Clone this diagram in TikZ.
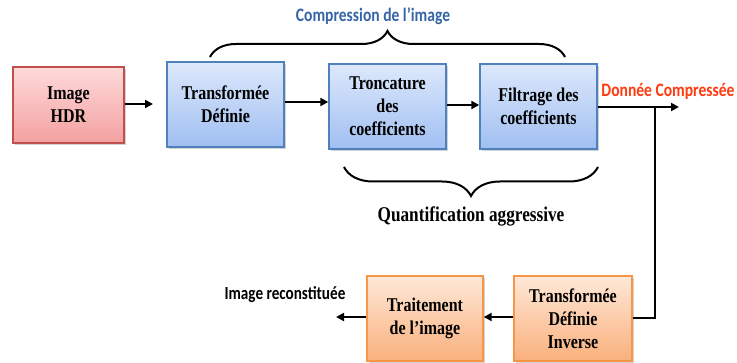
\documentclass[tikz,border=0pt]{standalone}
\usepackage{fontspec}
\newfontfamily\tnrfont[FakeStretch=0.82]{Liberation Serif}
\newfontfamily\calfont[FakeStretch=0.82]{Carlito}
\usetikzlibrary{arrows.meta,shadows,decorations.pathreplacing}
\definecolor{hdrborder}{HTML}{C0504D}
\definecolor{hdrtop}{HTML}{FFDADA}
\definecolor{hdrbot}{HTML}{F3A0A0}
\definecolor{blueborder}{HTML}{4F81BD}
\definecolor{bluetop}{HTML}{DDE8FB}
\definecolor{bluebot}{HTML}{A0BFF2}
\definecolor{orborder}{HTML}{F79646}
\definecolor{ortop}{HTML}{FFE8D8}
\definecolor{orbot}{HTML}{F9B07C}
\definecolor{compblue}{HTML}{3665A6}
\definecolor{compred}{HTML}{FF3A10}
\tikzset{
  box/.style={draw, line width=1.4pt, align=center, inner sep=2pt,
    font=\tnrfont\bfseries\fontsize{19.5}{23}\selectfont,
    drop shadow={shadow xshift=2pt, shadow yshift=-2.5pt, opacity=0.35, fill=gray}},
  hdrbox/.style={box, draw=hdrborder, top color=hdrtop, bottom color=hdrbot},
  bluebox/.style={box, draw=blueborder, top color=bluetop, bottom color=bluebot},
  orbox/.style={box, draw=orborder, top color=ortop, bottom color=orbot},
  conn/.style={line width=2pt, -{Triangle[length=8pt,width=8pt]}},
  plainconn/.style={line width=2pt},
  bracestyle/.style={line width=2pt, decorate},
  lab/.style={font=\calfont\bfseries\fontsize{19}{22}\selectfont, inner sep=0pt},
}
\begin{document}
\begin{tikzpicture}[x=1pt,y=-1pt]
\useasboundingbox (0,0) rectangle (737,363);

\node[hdrbox, minimum width=111pt, minimum height=76pt] (hdr) at (68.5,105) {Image\\HDR};
\node[bluebox, minimum width=117pt, minimum height=85pt] (td) at (225.5,104.5) {Transformée\\Définie};
\node[bluebox, minimum width=117pt, minimum height=85pt] (tr) at (387.5,106.5) {Troncature\\des\\coefficients};
\node[bluebox, minimum width=117pt, minimum height=85pt] (fi) at (538.5,106.5) {Filtrage des\\coefficients};
\node[orbox, minimum width=118pt, minimum height=85pt] (tdi) at (573,318.5) {Transformée\\Définie\\Inverse};
\node[orbox, minimum width=116pt, minimum height=85pt] (ti) at (425,318.5) {Traitement\\de l’image};

\node[lab, text=compblue] (comp) at (373,16) {Compression de l’image};
\node[lab, text=compred] (donnee) at (668,91) {Donnée Compressée};
\node[lab, font=\calfont\bfseries\fontsize{18.5}{22}\selectfont] (recon) at (285,295) {Image reconstituée};
\node[font=\tnrfont\bfseries\fontsize{21}{24}\selectfont, inner sep=0pt] (quant) at (471,216) {Quantification aggressive};

\coordinate (out) at (679,107);
\coordinate (j) at (655,107);
\coordinate (rend) at (336,317);
\coordinate (hdrend) at (153,104);

\draw[conn] (hdr.east |- hdrend) -- (hdrend);
\draw[conn] (td.east |- 0,102) -- (tr.west |- 0,102);
\draw[conn] (tr.east |- 0,105) -- (fi.west |- 0,105);
\draw[conn] (fi.east |- out) -- (out);
\draw[plainconn] (j) |- (tdi.east);
\draw[conn] (tdi.west |- 0,317) -- (ti.east |- 0,317);
\draw[conn] (ti.west |- rend) -- (rend);

\draw[bracestyle, decoration={brace, amplitude=26pt}] (210,57) -- (565,57);
\draw[bracestyle, decoration={brace, amplitude=29pt}] (598,167) -- (344,167);
\end{tikzpicture}
\end{document}
